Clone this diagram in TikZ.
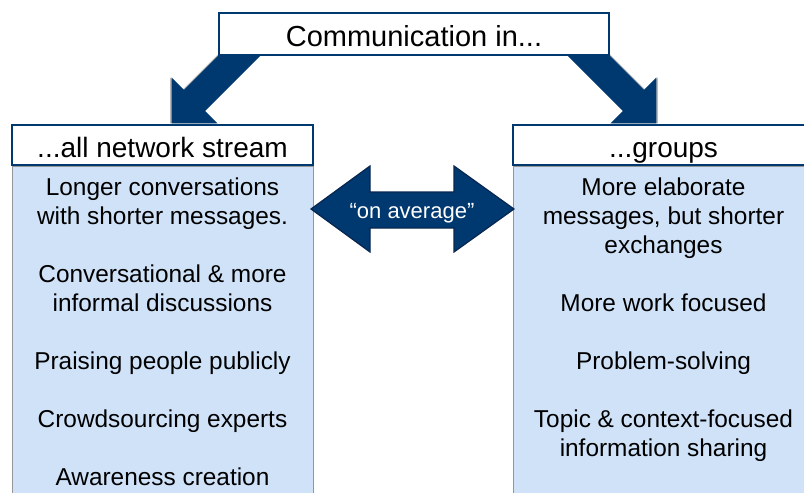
\documentclass[tikz,border=0pt]{standalone}
\usepackage{fontspec}
\setmainfont{Liberation Sans}
\usetikzlibrary{positioning}

\definecolor{deepnavy}{RGB}{0,56,112}
\definecolor{edgenavy}{RGB}{8,38,80}
\definecolor{paleblue}{RGB}{207,226,248}
\definecolor{boxgray}{RGB}{150,150,150}

\begin{document}
\begin{tikzpicture}[x=1pt,y=-1pt,
		titlebox/.style={draw=deepnavy,line width=2pt,fill=white,minimum width=390pt,minimum height=42pt,text height=24pt,text depth=0pt,font=\fontsize{29}{34}\selectfont},
		headbox/.style={draw=deepnavy,line width=2pt,fill=white,minimum width=301pt,minimum height=40pt,text height=24.5pt,text depth=0pt,font=\fontsize{28}{34}\selectfont},
		bodybox/.style={draw=boxgray,line width=1pt,fill=paleblue,minimum width=301pt,minimum height=340pt},
		itemtext/.style={align=center,inner sep=0pt,font=\fontsize{24.4}{29}\selectfont},
		bigarrow/.style={fill=deepnavy},
		arrowshade/.style={fill=gray!55}]
			\useasboundingbox (0,0) rectangle (804,493);
			\clip (0,0) rectangle (804,493);

			\fill[arrowshade,xshift=-1.5pt] (244.4,29.4) -- (184,89.8) -- (171.6,77.4) -- (171.6,123.4) -- (217.6,123.4) -- (205.2,111) -- (265.6,50.6) -- cycle;
			\fill[bigarrow] (244.4,29.4) -- (184,89.8) -- (171.6,77.4) -- (171.6,123.4) -- (217.6,123.4) -- (205.2,111) -- (265.6,50.6) -- cycle;
			\fill[arrowshade,xshift=1.5pt] (583.6,29.4) -- (644,89.8) -- (656.4,77.4) -- (656.4,123.4) -- (610.4,123.4) -- (622.8,111) -- (562.4,50.6) -- cycle;
			\fill[bigarrow] (583.6,29.4) -- (644,89.8) -- (656.4,77.4) -- (656.4,123.4) -- (610.4,123.4) -- (622.8,111) -- (562.4,50.6) -- cycle;

			\node[titlebox]									(title)		at (414,34)		{Communication in...};

			\node[bodybox,anchor=north]						(lbody)		at (162.5,166)	{};
			\node[headbox,above=0pt of lbody]				(lhead)					{...all network stream};
			\node[bodybox,anchor=north]						(rbody)		at (663.5,166)	{};
			\node[headbox,above=0pt of rbody]				(rhead)					{...groups};

			\node[itemtext,below=12pt of lbody.north]		(litems)	{Longer conversations\\with shorter messages.\\[29pt]Conversational \& more\\informal discussions\\[29pt]Praising people publicly\\[29pt]Crowdsourcing experts\\[29pt]Awareness creation};
			\node[itemtext,below=12pt of rbody.north]		(ritems)	{More elaborate\\messages, but shorter\\exchanges\\[29pt]More work focused\\[29pt]Problem-solving\\[29pt]Topic \& context-focused\\information sharing};

			\fill[bigarrow,draw=edgenavy,line width=1.2pt] (311,209) -- (370,166) -- (370,192) -- (454,192) -- (454,166) -- (514,209) -- (454,252) -- (454,228) -- (370,228) -- (370,252) -- cycle;
			\node[text=white,font=\fontsize{22}{26}\selectfont,anchor=base]	(avg)	at (412,218)	{“on average”};
		\end{tikzpicture}
\end{document}
